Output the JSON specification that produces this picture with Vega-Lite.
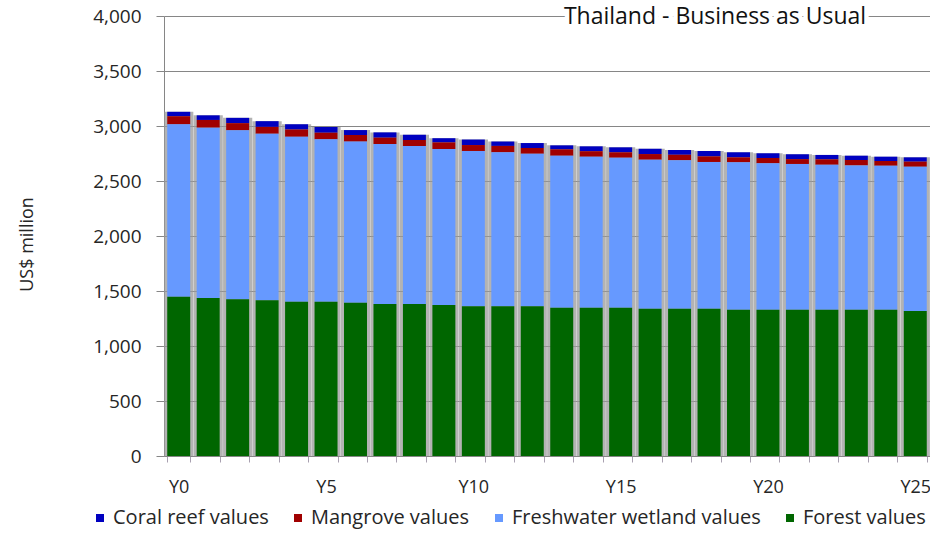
{
  "$schema": "https://vega.github.io/schema/vega-lite/v6.json",
  "width": 766,
  "height": 440,
  "autosize": {"type": "none"},
  "padding": {"left": 164, "top": 16, "right": 0, "bottom": 83},
  "background": "white",
  "config": {
    "view": {"stroke": null},
    "font": "Open Sans",
    "axis": {"labelFont": "Open Sans", "titleFont": "Open Sans", "labelColor": "#262626", "titleColor": "#262626"}
  },
  "data": {
    "values": [
      {"year": "Y0", "Coral reef values": 40, "Mangrove values": 74, "Freshwater wetland values": 1567, "Forest values": 1448},
      {"year": "Y1", "Coral reef values": 42, "Mangrove values": 70, "Freshwater wetland values": 1549, "Forest values": 1436},
      {"year": "Y2", "Coral reef values": 48, "Mangrove values": 65, "Freshwater wetland values": 1537, "Forest values": 1424},
      {"year": "Y3", "Coral reef values": 52, "Mangrove values": 62, "Freshwater wetland values": 1515, "Forest values": 1415},
      {"year": "Y4", "Coral reef values": 46, "Mangrove values": 66, "Freshwater wetland values": 1500, "Forest values": 1403},
      {"year": "Y5", "Coral reef values": 52, "Mangrove values": 60, "Freshwater wetland values": 1476, "Forest values": 1403},
      {"year": "Y6", "Coral reef values": 45, "Mangrove values": 60, "Freshwater wetland values": 1464, "Forest values": 1394},
      {"year": "Y7", "Coral reef values": 48, "Mangrove values": 58, "Freshwater wetland values": 1454, "Forest values": 1382},
      {"year": "Y8", "Coral reef values": 49, "Mangrove values": 54, "Freshwater wetland values": 1436, "Forest values": 1382},
      {"year": "Y9", "Coral reef values": 38, "Mangrove values": 60, "Freshwater wetland values": 1418, "Forest values": 1373},
      {"year": "Y10", "Coral reef values": 50, "Mangrove values": 54, "Freshwater wetland values": 1412, "Forest values": 1361},
      {"year": "Y11", "Coral reef values": 40, "Mangrove values": 58, "Freshwater wetland values": 1400, "Forest values": 1361},
      {"year": "Y12", "Coral reef values": 45, "Mangrove values": 52, "Freshwater wetland values": 1387, "Forest values": 1361},
      {"year": "Y13", "Coral reef values": 36, "Mangrove values": 58, "Freshwater wetland values": 1382, "Forest values": 1348},
      {"year": "Y14", "Coral reef values": 44, "Mangrove values": 50, "Freshwater wetland values": 1373, "Forest values": 1348},
      {"year": "Y15", "Coral reef values": 45, "Mangrove values": 49, "Freshwater wetland values": 1364, "Forest values": 1348},
      {"year": "Y16", "Coral reef values": 48, "Mangrove values": 51, "Freshwater wetland values": 1355, "Forest values": 1339},
      {"year": "Y17", "Coral reef values": 43, "Mangrove values": 51, "Freshwater wetland values": 1349, "Forest values": 1339},
      {"year": "Y18", "Coral reef values": 49, "Mangrove values": 51, "Freshwater wetland values": 1334, "Forest values": 1339},
      {"year": "Y19", "Coral reef values": 46, "Mangrove values": 45, "Freshwater wetland values": 1340, "Forest values": 1330},
      {"year": "Y20", "Coral reef values": 43, "Mangrove values": 48, "Freshwater wetland values": 1331, "Forest values": 1330},
      {"year": "Y21", "Coral reef values": 44, "Mangrove values": 44, "Freshwater wetland values": 1325, "Forest values": 1330},
      {"year": "Y22", "Coral reef values": 40, "Mangrove values": 49, "Freshwater wetland values": 1318, "Forest values": 1330},
      {"year": "Y23", "Coral reef values": 39, "Mangrove values": 49, "Freshwater wetland values": 1312, "Forest values": 1330},
      {"year": "Y24", "Coral reef values": 39, "Mangrove values": 43, "Freshwater wetland values": 1309, "Forest values": 1330},
      {"year": "Y25", "Coral reef values": 39, "Mangrove values": 46, "Freshwater wetland values": 1312, "Forest values": 1318}
    ]
  },
  "transform": [
    {"fold": ["Coral reef values", "Mangrove values", "Freshwater wetland values", "Forest values"], "as": ["type", "value"]},
    {"calculate": "indexof(['Forest values','Freshwater wetland values','Mangrove values','Coral reef values'], datum.type)", "as": "stackOrder"}
  ],
  "layer": [
    {
      "mark": {"type": "bar", "color": "#9a9a9a", "opacity": 0.75, "width": {"band": 1.27}},
      "encoding": {
        "x": {
          "field": "year", "type": "ordinal", "sort": null,
          "scale": {"paddingInner": 0.22, "paddingOuter": 0.11},
          "axis": {
            "title": null, "labelAngle": 0, "tickBand": "extent", "tickSize": 6, "tickColor": "#a8a0b0",
            "domainColor": "#868686", "labelFontSize": 18, "labelPadding": 16,
            "labelExpr": "indexof(['Y0','Y5','Y10','Y15','Y20','Y25'], datum.value) >= 0 ? datum.value : ''"
          }
        },
        "y": {
          "aggregate": "sum", "field": "value", "type": "quantitative", "title": "US$ million",
          "scale": {"domain": [0, 4000], "nice": false},
          "axis": {
            "values": [0, 500, 1000, 1500, 2000, 2500, 3000, 3500, 4000],
            "labelExpr": "format(datum.value, ',')",
            "grid": true, "gridColor": "#868686", "gridWidth": 1, "domainColor": "#868686",
            "tickColor": "#868686", "tickSize": 8, "labelFontSize": 19, "labelPadding": 15,
            "titleFontSize": 18, "titleFontWeight": "normal", "titleX": -128, "titleY": 228
          }
        }
      }
    },
    {
      "mark": {"type": "bar"},
      "encoding": {
        "x": {"field": "year", "type": "ordinal", "sort": null},
        "y": {
          "field": "value", "type": "quantitative", "stack": "zero", "title": "US$ million",
          "axis": {
            "values": [0, 500, 1000, 1500, 2000, 2500, 3000, 3500, 4000],
            "labelExpr": "format(datum.value, ',')",
            "grid": true, "gridColor": "#868686", "gridWidth": 1, "domainColor": "#868686",
            "tickColor": "#868686", "tickSize": 8, "labelFontSize": 19, "labelPadding": 15,
            "titleFontSize": 18, "titleFontWeight": "normal", "titleX": -128, "titleY": 228
          }
        },
        "order": {"field": "stackOrder", "type": "quantitative"},
        "color": {
          "field": "type", "type": "nominal",
          "scale": {
            "domain": ["Coral reef values", "Mangrove values", "Freshwater wetland values", "Forest values"],
            "range": ["#0000c0", "#a00000", "#6699ff", "#006600"]
          },
          "legend": {
            "title": null, "orient": "none", "direction": "horizontal", "legendX": -74, "legendY": 492,
            "symbolType": "square", "symbolSize": 64, "symbolStrokeWidth": 0, "labelFontSize": 20,
            "labelFont": "Open Sans", "labelColor": "#262626", "labelOffset": 3, "columnPadding": 19,
            "padding": 0, "labelLimit": 400
          }
        }
      }
    },
    {
      "data": {"values": [{"label": "Thailand - Business as Usual"}]},
      "mark": {"type": "text", "font": "Open Sans", "fontSize": 23, "color": "white", "stroke": "white", "strokeWidth": 9, "strokeJoin": "round", "dx": 6, "dy": 1, "baseline": "middle"},
      "encoding": {
        "x": {"datum": "Y18", "type": "ordinal"},
        "y": {"datum": 4000, "type": "quantitative"},
        "text": {"field": "label"}
      }
    },
    {
      "data": {"values": [{"label": "Thailand - Business as Usual"}]},
      "mark": {"type": "text", "font": "Open Sans", "fontSize": 23, "color": "#111111", "dx": 6, "dy": 1, "baseline": "middle"},
      "encoding": {
        "x": {"datum": "Y18", "type": "ordinal"},
        "y": {"datum": 4000, "type": "quantitative"},
        "text": {"field": "label"}
      }
    }
  ]
}
